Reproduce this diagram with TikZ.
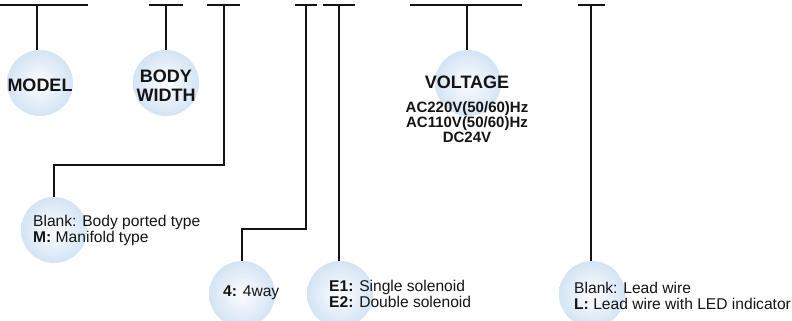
\documentclass[tikz,border=0pt]{standalone}
\usepackage{fontspec}
\setmainfont{Liberation Sans}
\usetikzlibrary{positioning}
\definecolor{bubblein}{RGB}{252,253,255}
\definecolor{bubbleout}{RGB}{212,228,244}
\definecolor{ink}{RGB}{20,20,20}
\begin{document}
\begin{tikzpicture}[x=1pt, y=-1pt,
    bubble/.style={circle, minimum size=66pt, inner sep=0pt, shading=radial, inner color=bubblein, outer color=bubbleout},
    bar/.style={line width=2.8pt, color=ink},
    lead/.style={line width=2pt, color=ink},
    title/.style={font=\fontsize{18}{19}\selectfont\bfseries, text=ink, align=center, inner sep=0pt},
    spec/.style={font=\fontsize{15}{13}\selectfont\bfseries, text=ink, align=center, inner sep=0pt},
    choice/.style={font=\fontsize{15.6}{16}\selectfont, text=ink, align=left, anchor=west, inner sep=0pt}]
    \useasboundingbox (0,0) rectangle (792,321);
    % code bars along the top
    \draw[bar] (0,5) -- (88,5);
    \draw[bar] (149,5) -- (183,5);
    \draw[bar] (207,5) -- (240,5);
    \draw[bar] (295,5) -- (317,5);
    \draw[bar] (323,5) -- (355,5);
    \draw[bar] (410,5) -- (522,5);
    \draw[bar] (578,5) -- (605,5);
    \coordinate (modeltap) at (37,5);
    \coordinate (widthtap) at (166,5);
    \coordinate (porttap) at (224,5);
    \coordinate (waytap) at (306,5);
    \coordinate (coiltap) at (339,5);
    \coordinate (volttap) at (467,5);
    \coordinate (wiretap) at (591,5);
    % bubbles
    \node[bubble] (model) at (40,83) {};
    \node[bubble] (width) at (166,83) {};
    \node[bubble] (volt) at (468,83) {};
    \node[bubble] (port) at (54,230) {};
    \node[bubble] (way) at (242,294) {};
    \node[bubble] (coil) at (340,294) {};
    \node[bubble] (wire) at (592,294) {};
    % texts
    \node[title] (modeltxt) at (40,85) {MODEL};
    \node[title] (widthtxt) at (166,85.5) {BODY\\WIDTH};
    \node[title] (volttxt) at (467,82) {VOLTAGE};
    \node[spec] (voltlist) at (467,122) {AC220V(50/60)Hz\\AC110V(50/60)Hz\\DC24V};
    \node[choice] (porttxt) at (33,230) {Blank: Body ported type\\\textbf{M:} Manifold type};
    \node[choice] (waytxt) at (223,293) {\textbf{4:} 4way};
    \node[choice] (coiltxt) at (329,294) {\textbf{E1:} Single solenoid\\\textbf{E2:} Double solenoid};
    \node[choice] (wiretxt) at (574,296) {Blank: Lead wire\\\textbf{L:} Lead wire with LED indicator};
    % leaders
    \coordinate (portbend) at (224,165);
    \coordinate (waybend) at (306,229);
    \draw[lead] (modeltap) -- (modeltap |- model.north);
    \draw[lead] (widthtap) -- (widthtap |- width.north);
    \draw[lead] (volttap) -- (volttap |- volt.north);
    \draw[lead] (porttap) -- (portbend) -| (port.north);
    \draw[lead] (waytap) -- (waybend) -| (way.north);
    \draw[lead] (coiltap) -- (coiltap |- coil.north);
    \draw[lead] (wiretap) -- (wiretap |- wire.north);
\end{tikzpicture}
\end{document}
